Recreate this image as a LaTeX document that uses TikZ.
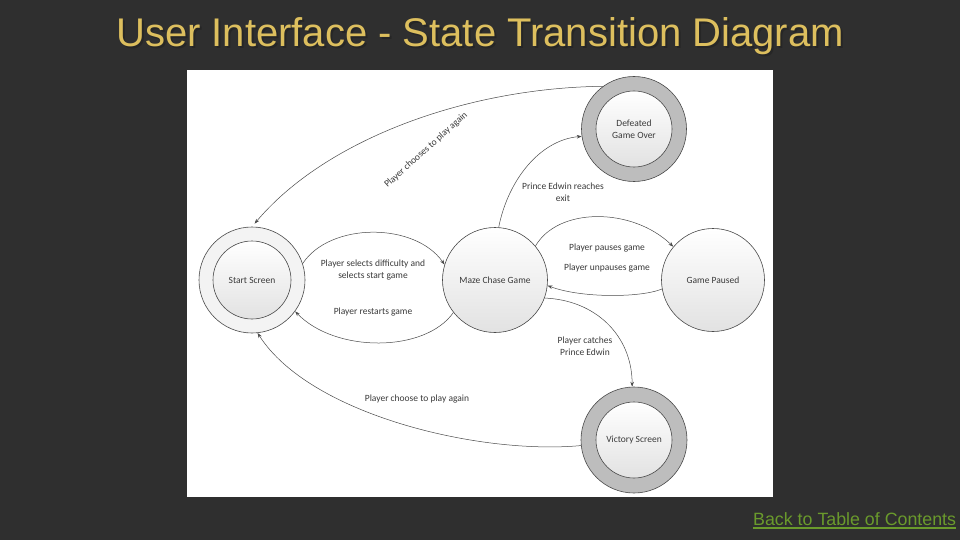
\documentclass[tikz,border=0pt]{standalone}
\usepackage{fontspec}
\setmainfont{Liberation Sans}
\newfontfamily\diagfont{Carlito}
\usetikzlibrary{arrows.meta}
\definecolor{bgdark}{HTML}{2F2F2F}
\definecolor{titlegold}{HTML}{DDBF5E}
\definecolor{tocgreen}{HTML}{6A9A2C}
\definecolor{linegray}{HTML}{4A4A4A}
\definecolor{txtgray}{HTML}{3A3A3A}
\definecolor{ringgray}{HTML}{BDBDBD}
\definecolor{ringlight}{HTML}{F3F3F3}
\definecolor{innerbot}{HTML}{E2E2E2}
\begin{document}
\begin{tikzpicture}[x=1pt,y=-1pt,
  state/.style={circle, draw=linegray, line width=0.6pt, inner sep=0pt,
    top color=white, bottom color=innerbot,
    font=\diagfont\fontsize{9.5}{11.5}\selectfont, text=txtgray, align=center},
  ringlight/.style={circle, draw=linegray, line width=0.6pt, inner sep=0pt, fill=ringlight},
  ringdark/.style={circle, draw=linegray, line width=0.6pt, inner sep=0pt, fill=ringgray},
  trans/.style={draw=linegray, line width=0.5pt, -{Stealth[length=5pt,width=3.6pt]}},
  lbl/.style={font=\diagfont\fontsize{9.5}{11.5}\selectfont, text=txtgray, align=center, inner sep=0pt}
]
\useasboundingbox (0,0) rectangle (960,540);
\fill[bgdark] (0,0) rectangle (960,540);
\fill[white] (187,70) rectangle (773,497);

% title
\node[anchor=base, text=black!85, font=\fontsize{40}{48}\selectfont] (titleshadow) at (482,49) {User Interface - State Transition Diagram};
\node[anchor=base, text=titlegold, font=\fontsize{40}{48}\selectfont] (title) at (480,47) {User Interface - State Transition Diagram};

% link
\node[anchor=base west, inner sep=0pt, text=tocgreen, font=\fontsize{17.8}{20}\selectfont] (toc) at (753,525) {Back to Table of Contents};
\draw[tocgreen, line width=1.4pt] ([yshift=-3pt]toc.base west) -- ([yshift=-3pt]toc.base east);

% states
\node[ringlight, minimum size=106pt] (start) at (252,280) {};
\node[state, minimum size=78pt] (startin) at (252,280) {Start Screen};
\node[state, minimum size=105pt] (maze) at (495,280) {Maze Chase Game};
\node[state, minimum size=103pt] (paused) at (713,280) {Game Paused};
\node[ringdark, minimum size=105pt] (defeated) at (634,129) {};
\node[state, minimum size=76pt] (defeatedin) at (634,129) {Defeated\\Game Over};
\node[ringdark, minimum size=106pt] (victory) at (634,440) {};
\node[state, minimum size=76pt] (victoryin) at (634,440) {Victory Screen};

% transitions
\draw[trans, shorten >=4pt] (defeated.126) .. controls (465,88) and (325,140) .. (start.90);
\draw[trans] (maze.86) .. controls (508,180) and (540,140) .. (defeated.188);
\draw[trans] (start.18) .. controls (330,222) and (415,222) .. (maze.163);
\draw[trans] (maze.218) .. controls (425,353) and (335,353) .. (start.324);
\draw[trans] (maze.40) .. controls (558,207) and (632,207) .. (paused.140);
\draw[trans] (paused.190) .. controls (640,298) and (580,298) .. (maze.354);
\draw[trans] (maze.340) .. controls (595,300) and (632,335) .. (victory.92);
\draw[trans] (victory.186) .. controls (480,455) and (310,415) .. (start.276);

% labels
\node[lbl, rotate=42] (l1) at (426,150) {Player chooses to play again};
\node[lbl] (l2) at (563,192) {Prince Edwin reaches\\exit};
\node[lbl] (l3) at (373,270) {Player selects difficulty and\\selects start game};
\node[lbl] (l4) at (373,312) {Player restarts game};
\node[lbl] (l5) at (607,248) {Player pauses game};
\node[lbl] (l6) at (607,268) {Player unpauses game};
\node[lbl] (l7) at (585,346) {Player catches\\Prince Edwin};
\node[lbl] (l8) at (417,399) {Player choose to play again};
\end{tikzpicture}
\end{document}
